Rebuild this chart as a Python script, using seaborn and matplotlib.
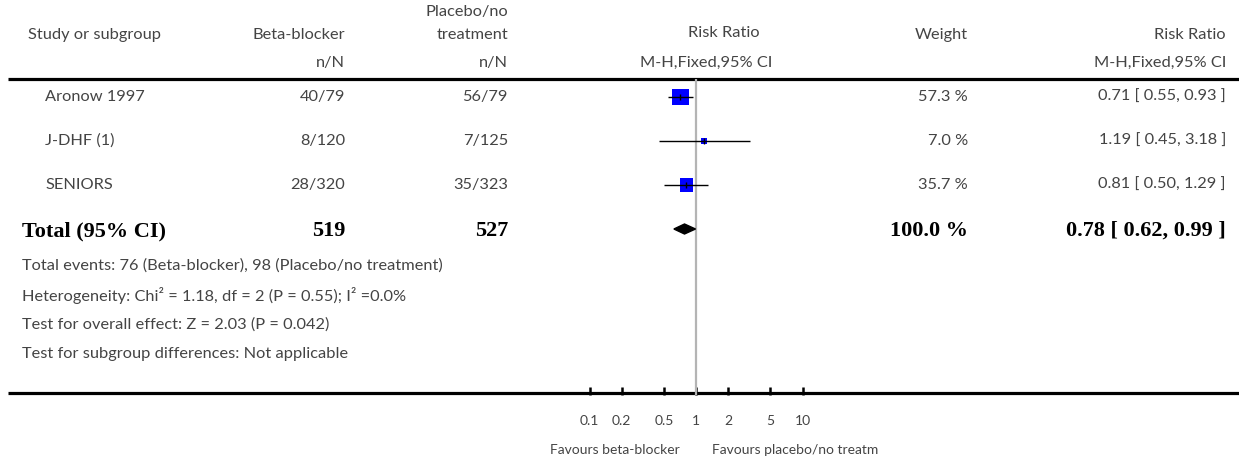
import matplotlib
matplotlib.use("Agg")
import matplotlib.pyplot as plt
from matplotlib.patches import Polygon
import numpy as np
import pandas as pd
import seaborn as sns

# ---- data -------------------------------------------------------------
studies = ["Aronow 1997", "J-DHF (1)", "SENIORS"]
bb_events = ["40/79", "8/120", "28/320"]
pl_events = ["56/79", "7/125", "35/323"]
weights = [57.3, 7.0, 35.7]
rr = [0.71, 1.19, 0.81]
ci_low = [0.55, 0.45, 0.50]
ci_high = [0.93, 3.18, 1.29]

total_label = "Total (95% CI)"
total_bb = "519"
total_pl = "527"
total_weight = "100.0 %"
total_rr = 0.78
total_low = 0.62
total_high = 0.99

footer_lines = [
    "Total events: 76 (Beta-blocker), 98 (Placebo/no treatment)",
    "Heterogeneity: Chi² = 1.18, df = 2 (P = 0.55); I² =0.0%",
    "Test for overall effect: Z = 2.03 (P = 0.042)",
    "Test for subgroup differences: Not applicable",
]

tick_values = [0.1, 0.2, 0.5, 1, 2, 5, 10]
tick_labels = ["0.1", "0.2", "0.5", "1", "2", "5", "10"]
favours_left = "Favours beta-blocker"
favours_right = "Favours placebo/no treatm"

# ---- style ------------------------------------------------------------
sns.set_style("white")
plt.rcParams["font.family"] = ["Lato", "DejaVu Sans"]

W, H = 1239, 462
DPI = 100
fig = plt.figure(figsize=(W / DPI, H / DPI), dpi=DPI)
fig.patch.set_facecolor("white")

TXT = "#444444"
FS = 11.8
LIGHT = dict(color=TXT, fontsize=FS, fontweight="normal")
BOLD = dict(color="black", fontsize=16, fontweight="bold",
            family=["Liberation Serif", "DejaVu Serif"])

# Full-figure layer in pixel units for table text and rules
bg = fig.add_axes([0, 0, 1, 1])
bg.set_xlim(0, W)
bg.set_ylim(H, 0)
bg.axis("off")

ROW0, ROWSTEP = 97, 44          # pixel centre of first row and row spacing
TOP_RULE, BOTTOM_RULE = 79, 393

def row_y(i):
    return ROW0 + ROWSTEP * i

# header
bg.text(28, 35, "Study or subgroup", ha="left", va="center", **LIGHT)
bg.text(345, 35, "Beta-blocker", ha="right", va="center", **LIGHT)
bg.text(345, 63, "n/N", ha="right", va="center", **LIGHT)
bg.text(508, 12, "Placebo/no", ha="right", va="center", **LIGHT)
bg.text(508, 35, "treatment", ha="right", va="center", **LIGHT)
bg.text(508, 63, "n/N", ha="right", va="center", **LIGHT)
bg.text(724, 33, "Risk Ratio", ha="center", va="center", **LIGHT)
bg.text(706, 63, "M-H,Fixed,95% CI", ha="center", va="center", **LIGHT)
bg.text(968, 35, "Weight", ha="right", va="center", **LIGHT)
bg.text(1226, 35, "Risk Ratio", ha="right", va="center", **LIGHT)
bg.text(1226, 63, "M-H,Fixed,95% CI", ha="right", va="center", **LIGHT)

# rules
bg.plot([8, W], [TOP_RULE, TOP_RULE], color="black", lw=2.3, solid_capstyle="butt")
bg.plot([8, W], [BOTTOM_RULE, BOTTOM_RULE], color="black", lw=2.3, solid_capstyle="butt")

# study rows
for i, name in enumerate(studies):
    y = row_y(i)
    bg.text(45, y, name, ha="left", va="center", **LIGHT)
    bg.text(345, y, bb_events[i], ha="right", va="center", **LIGHT)
    bg.text(508, y, pl_events[i], ha="right", va="center", **LIGHT)
    bg.text(968, y, f"{weights[i]:.1f} %", ha="right", va="center", **LIGHT)
    bg.text(1226, y, f"{rr[i]:.2f} [ {ci_low[i]:.2f}, {ci_high[i]:.2f} ]",
            ha="right", va="center", **LIGHT)

# total row
ty = row_y(len(studies)) + 2
bg.text(22, ty, total_label, ha="left", va="center", **BOLD)
bg.text(345, ty, total_bb, ha="right", va="center", **BOLD)
bg.text(508, ty, total_pl, ha="right", va="center", **BOLD)
bg.text(968, ty, total_weight, ha="right", va="center", **BOLD)
bg.text(1226, ty, f"{total_rr:.2f} [ {total_low:.2f}, {total_high:.2f} ]",
        ha="right", va="center", **BOLD)

# footer
for k, line in enumerate(footer_lines):
    bg.text(22, 266 + 29.3 * k, line, ha="left", va="center", **LIGHT)

# favours labels
bg.text(680, 450, favours_left, ha="right", va="center", **dict(LIGHT, fontsize=10))
bg.text(712, 450, favours_right, ha="left", va="center", **dict(LIGHT, fontsize=10))

# ---- forest panel (log scale) -----------------------------------------
X_ONE, PX_DECADE = 696, 106.5
px_l, px_r = 560, 840
py_top, py_bot = TOP_RULE, BOTTOM_RULE + 1.5   # ticks start from the rule's lower edge
ax = fig.add_axes([px_l / W, 1 - py_bot / H, (px_r - px_l) / W,
                   (py_bot - py_top) / H])
ax.patch.set_alpha(0)
ax.set_xscale("log")
ax.set_xlim(10 ** ((px_l - X_ONE) / PX_DECADE), 10 ** ((px_r - X_ONE) / PX_DECADE))
ax.set_ylim((py_bot - ROW0) / ROWSTEP, (py_top - ROW0) / ROWSTEP)

df = pd.DataFrame({"study": studies, "rr": rr, "lo": ci_low, "hi": ci_high,
                   "weight": weights, "row": np.arange(len(studies))})

ax.axvline(1, color="#b4b4b4", lw=1.6, zorder=1)

sns.scatterplot(data=df, x="rr", y="row", size="weight",
                sizes=(min(weights) * 2.6, max(weights) * 2.6),
                marker="s", color="#0000ff", linewidth=0, legend=False,
                ax=ax, zorder=2)
ax.hlines(df["row"], df["lo"], df["hi"], color="black", lw=1.0, zorder=3)
ax.plot(df["rr"], df["row"], linestyle="none", marker="|", color="black",
        markersize=5, markeredgewidth=1.0, zorder=4)

# pooled diamond
tr = len(studies)
dh = 5 / ROWSTEP
ax.add_patch(Polygon([(total_low, tr), (total_rr, tr - dh), (total_high, tr),
                      (total_rr, tr + dh)], closed=True, color="black", zorder=4))

ax.set_xticks(tick_values)
ax.set_xticklabels(tick_labels)
ax.xaxis.set_minor_locator(matplotlib.ticker.NullLocator())
ax.set_yticks([])
ax.set_xlabel("")
ax.set_ylabel("")
for s in ax.spines.values():
    s.set_visible(False)
ax.tick_params(axis="x", bottom=True, direction="in", length=6, width=1.8,
               color="black", pad=15, labelsize=10, labelcolor=TXT)

fig.savefig("out.png", dpi=DPI, facecolor="white")
